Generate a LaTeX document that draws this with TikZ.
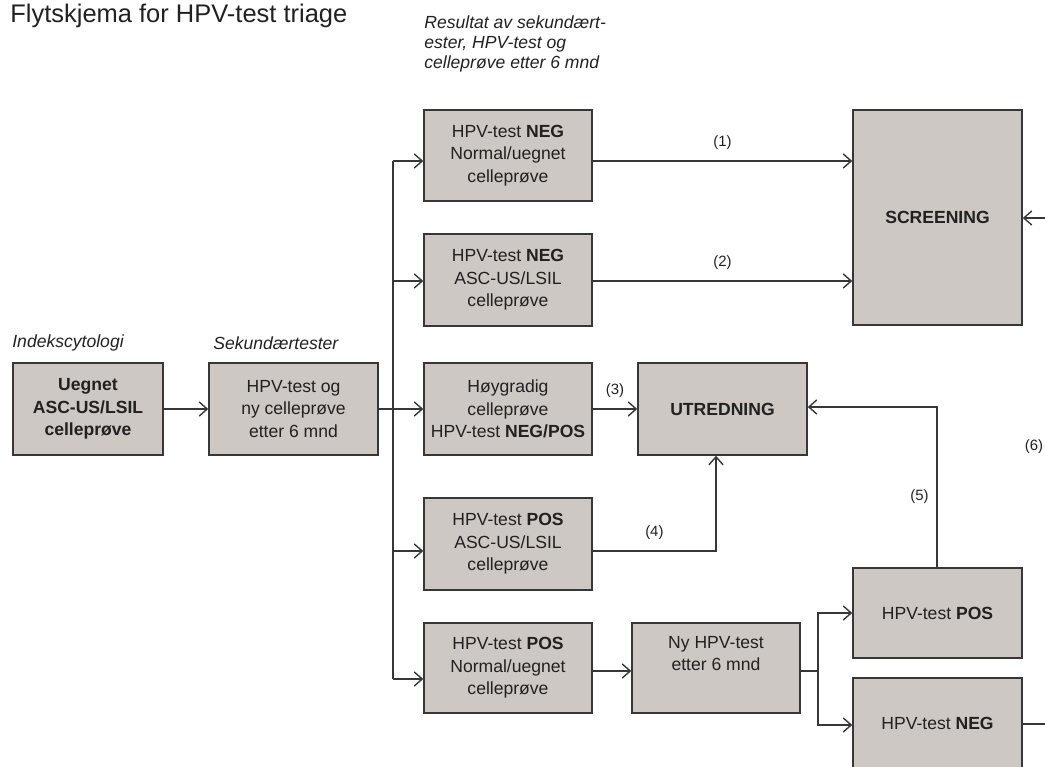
\documentclass[tikz,border=0pt]{standalone}
\usepackage{fontspec}
\setmainfont{Liberation Sans}
\usetikzlibrary{arrows.meta}
\definecolor{boxgray}{RGB}{205,200,195}
\definecolor{linegray}{RGB}{55,55,55}
\definecolor{textdark}{RGB}{35,32,32}

\begin{document}
\begin{tikzpicture}[x=0.02cm, y=-0.02cm,
    box/.style={draw=linegray, line width=0.9pt, fill=boxgray, align=center, inner sep=0pt,
        minimum width=3.36cm, minimum height=1.84cm, text=textdark,
        font=\fontsize{10}{12.75}\selectfont},
    conn/.style={draw=linegray, line width=0.8pt},
    arr/.style={conn, -{Straight Barb[length=4.5pt,width=8pt]}},
    num/.style={font=\fontsize{8.5}{10}\selectfont, text=textdark},
    head/.style={font=\fontsize{10}{11.6}\selectfont\itshape, text=textdark, align=left, inner sep=0pt}]
    % Frame
    \useasboundingbox (0,0) rectangle (1045,767);
    \clip (0,0) rectangle (1045,767);

    % Title and column headings
    \node[anchor=west, inner sep=0pt, text=textdark, font=\fontsize{14.5}{16}\selectfont] (title) at (10,16) {Flytskjema for HPV-test triage};
    \node[head, anchor=west] (hidx) at (12,343) {Indekscytologi};
    \node[head, anchor=west] (hsek) at (213,343) {Sekundærtester};
    \node[head, anchor=north west] (hres) at (424,15) {Resultat av sekundært-\\ester, HPV-test og\\celleprøve etter 6 mnd};

    % Boxes
    \node[box, minimum width=3.0cm, font=\fontsize{10}{12.75}\selectfont\bfseries] (idx) at (88,409) {Uegnet\\ASC-US/LSIL\\celleprøve};
    \node[box, minimum width=3.38cm] (sek) at (293.5,409) {HPV-test og\\ny celleprøve\\etter 6 mnd};
    \node[box, minimum height=1.82cm] (r1) at (508,155.5) {HPV-test \textbf{NEG}\\Normal/uegnet\\celleprøve};
    \node[box] (r2) at (508,280) {HPV-test \textbf{NEG}\\ASC-US/LSIL\\celleprøve};
    \node[box] (r3) at (508,409) {Høygradig\\celleprøve\\HPV-test \textbf{NEG/POS}};
    \node[box] (r4) at (508,544) {HPV-test \textbf{POS}\\ASC-US/LSIL\\celleprøve};
    \node[box, minimum height=1.8cm] (r5) at (508,668) {HPV-test \textbf{POS}\\Normal/uegnet\\celleprøve};
    \node[box, minimum height=1.8cm] (ny) at (716,668) {Ny HPV-test\\etter 6 mnd\\\strut};
    \node[box, minimum width=3.38cm, font=\fontsize{10}{12.75}\selectfont\bfseries] (utr) at (722.5,409) {UTREDNING};
    \node[box, minimum width=3.38cm, minimum height=4.3cm, font=\fontsize{10}{12.75}\selectfont\bfseries] (scr) at (937.5,217.5) {SCREENING};
    \node[box, minimum width=3.38cm, minimum height=1.8cm] (pos) at (937.5,613) {HPV-test \textbf{POS}};
    \node[box, minimum width=3.38cm, minimum height=1.8cm] (neg) at (937.5,723) {HPV-test \textbf{NEG}};

    % Trunk to the result boxes
    \coordinate (t1) at (393,161);
    \coordinate (t2) at (393,281);
    \coordinate (t4) at (393,551);
    \coordinate (t5) at (393,679);
    \draw[conn] (t1) -- (t5);
    \draw[arr] (idx) -- (sek);
    \draw[arr] (sek) -- (r3);
    \draw[arr] (t1) -- (t1 -| r1.west);
    \draw[arr] (t2) -- (t2 -| r2.west);
    \draw[arr] (t4) -- (t4 -| r4.west);
    \draw[arr] (t5) -- (t5 -| r5.west);

    % Outcomes
    \draw[arr] (t1 -| r1.east) -- node[num, above=3pt] {(1)} (t1 -| scr.west);
    \draw[arr] (t2 -| r2.east) -- node[num, above=3pt] {(2)} (t2 -| scr.west);
    \draw[arr] (r3) -- node[num, above=3pt] {(3)} (utr);
    \draw[arr] (t4 -| r4.east) -| node[num, pos=0.25, above=3pt] {(4)} ([xshift=-0.13cm]utr.south);
    \draw[arr] ([yshift=-0.06cm]r5.east) -- ([yshift=-0.06cm]ny.west);

    % Repeat HPV test
    \coordinate (sp) at (818,671);
    \draw[conn] (ny.east |- sp) -- (sp);
    \draw[arr] (sp) |- (pos);
    \draw[arr] (sp) |- ([yshift=-0.04cm]neg.west);
    \draw[arr] ([xshift=-0.01cm]pos.north) |- node[num, pos=0.22, left=1pt] {(5)} ([yshift=0.04cm]utr.east);

    % Back to screening
    \coordinate (in6) at (1045,218);
    \coordinate (out6) at (1045,724);
    \draw[arr] (in6) -- (scr.east |- in6);
    \draw[conn] (neg.east |- out6) -- (out6);
    \node[num] (lab6) at (1034,447) {(6)};
\end{tikzpicture}
\end{document}
